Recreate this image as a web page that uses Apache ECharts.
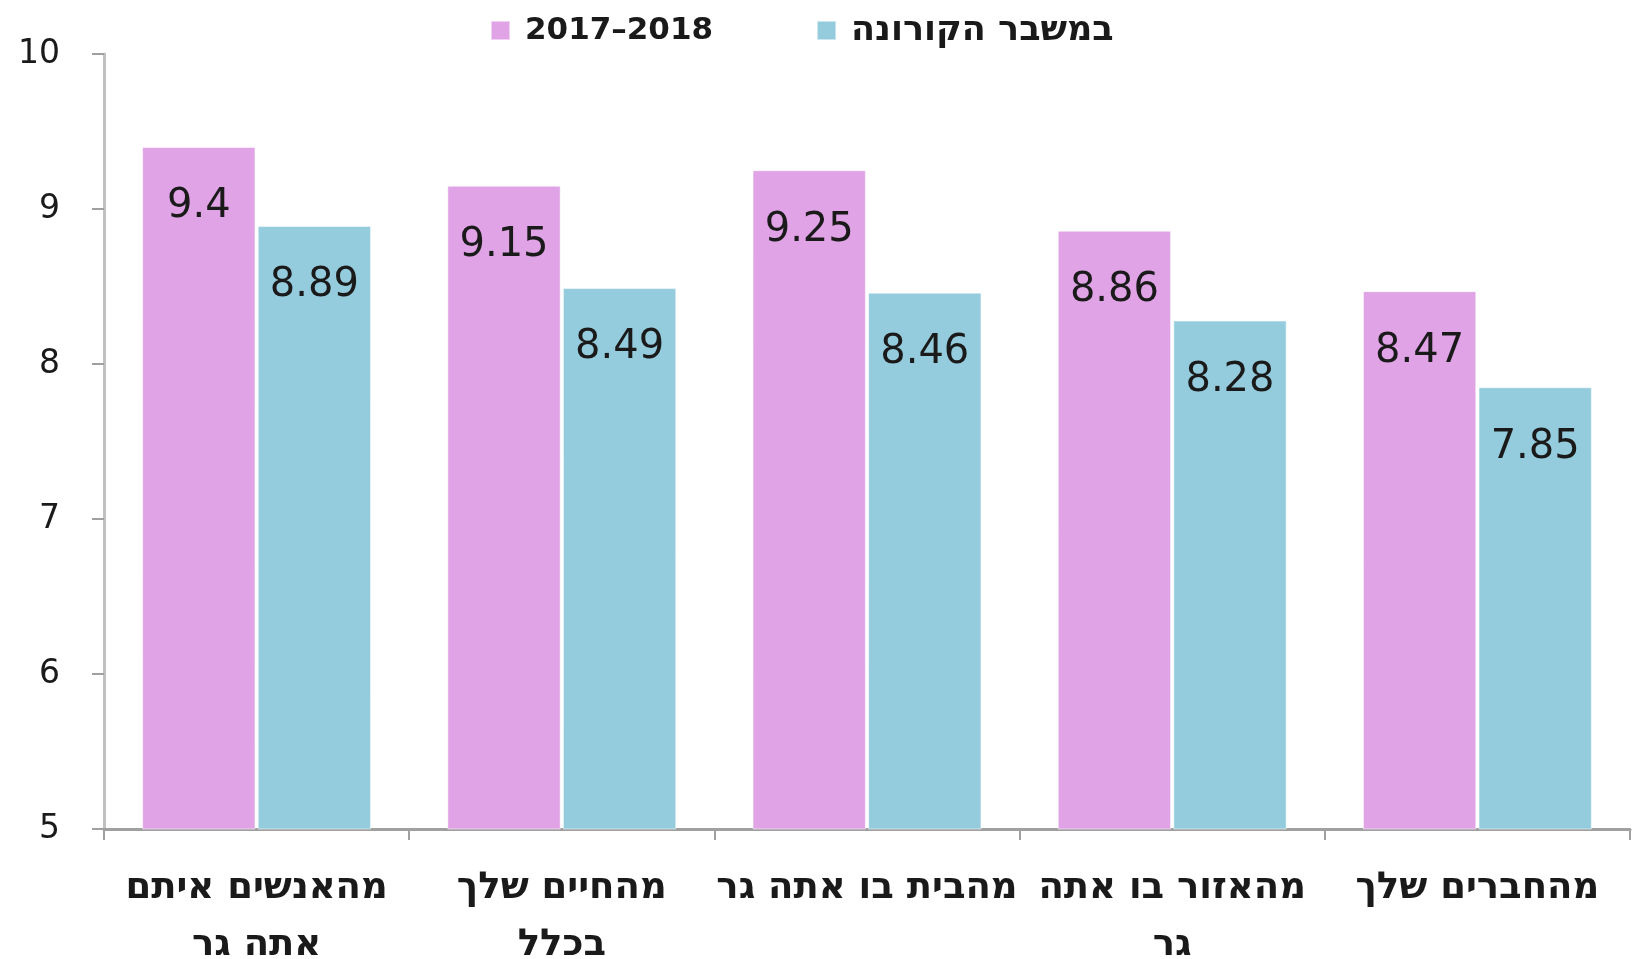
<!DOCTYPE html>
<html>
<head>
<meta charset="utf-8">
<script src="https://cdn.jsdelivr.net/npm/echarts@6/dist/echarts.min.js"></script>
<style>
* {margin: 0; padding: 0;}
#main {width: 1632px; height: 959px;}
</style>
</head>
<body>
<div id="main"></div>
<script>
// קטגוריות וערכים
const categories = [
    'מהאנשים איתם\nאתה גר',
    'מהחיים שלך\nבכלל',
    'מהבית בו אתה גר',
    'מהאזור בו אתה\nגר',
    'מהחברים שלך'
];
const seriesNames = ['2017–2018', 'במשבר הקורונה'];
const values2017 = [9.4, 9.15, 9.25, 8.86, 8.47];
const valuesCorona = [8.89, 8.49, 8.46, 8.28, 7.85];
const yTicks = [5, 6, 7, 8, 9, 10];

const PINK = '#E0A3E6';
const BLUE = '#95CCDD';
const TEXT = '#1a1a1a';

const chart = echarts.init(document.getElementById('main'));

function barSeries(name, data, color) {
    return {
        name: name,
        type: 'bar',
        data: data,
        barGap: '2%',
        barCategoryGap: '25%',
        itemStyle: {color: color, borderColor: 'rgba(255,255,255,0.5)', borderWidth: 1},
        label: {
            show: true,
            position: 'insideTop',
            distance: 40,
            color: TEXT,
            fontFamily: 'DejaVu Sans',
            fontSize: 40
        }
    };
}

chart.setOption({
    animation: false,
    legend: {
        top: 8,
        left: 485,
        itemWidth: 19,
        itemHeight: 19,
        itemGap: 103,
        icon: 'rect',
        formatter: name => (name === seriesNames[1] ? '{he|' + name + '}' : name),
        textStyle: {
            fontFamily: 'DejaVu Sans',
            fontWeight: 'bold',
            fontSize: 31,
            color: TEXT,
            padding: [0, 0, 0, 10],
            rich: {
                he: {fontFamily: 'DejaVu Sans', fontWeight: 'bold', fontSize: 35, color: TEXT}
            }
        },
        data: seriesNames
    },
    grid: {left: 104, right: 2, top: 54, bottom: 130, outerBoundsMode: 'none'},
    xAxis: {
        type: 'category',
        data: categories,
        axisLine: {lineStyle: {color: '#A0A0A0', width: 3}},
        axisTick: {show: true, length: 11, lineStyle: {color: '#A0A0A0', width: 2}},
        axisLabel: {
            interval: 0,
            margin: 31,
            color: TEXT,
            fontFamily: 'DejaVu Sans',
            fontWeight: 'bold',
            fontSize: 37,
            lineHeight: 57
        }
    },
    yAxis: {
        type: 'value',
        min: yTicks[0],
        max: yTicks[yTicks.length - 1],
        interval: 1,
        splitLine: {show: false},
        axisLine: {show: true, lineStyle: {color: '#C0C0C0', width: 3}},
        axisTick: {show: true, length: 12, lineStyle: {color: '#A0A0A0', width: 2}},
        axisLabel: {margin: 44, color: TEXT, fontFamily: 'DejaVu Sans', fontSize: 33}
    },
    series: [
        barSeries(seriesNames[0], values2017, PINK),
        barSeries(seriesNames[1], valuesCorona, BLUE)
    ]
});
</script>
</body>
</html>
